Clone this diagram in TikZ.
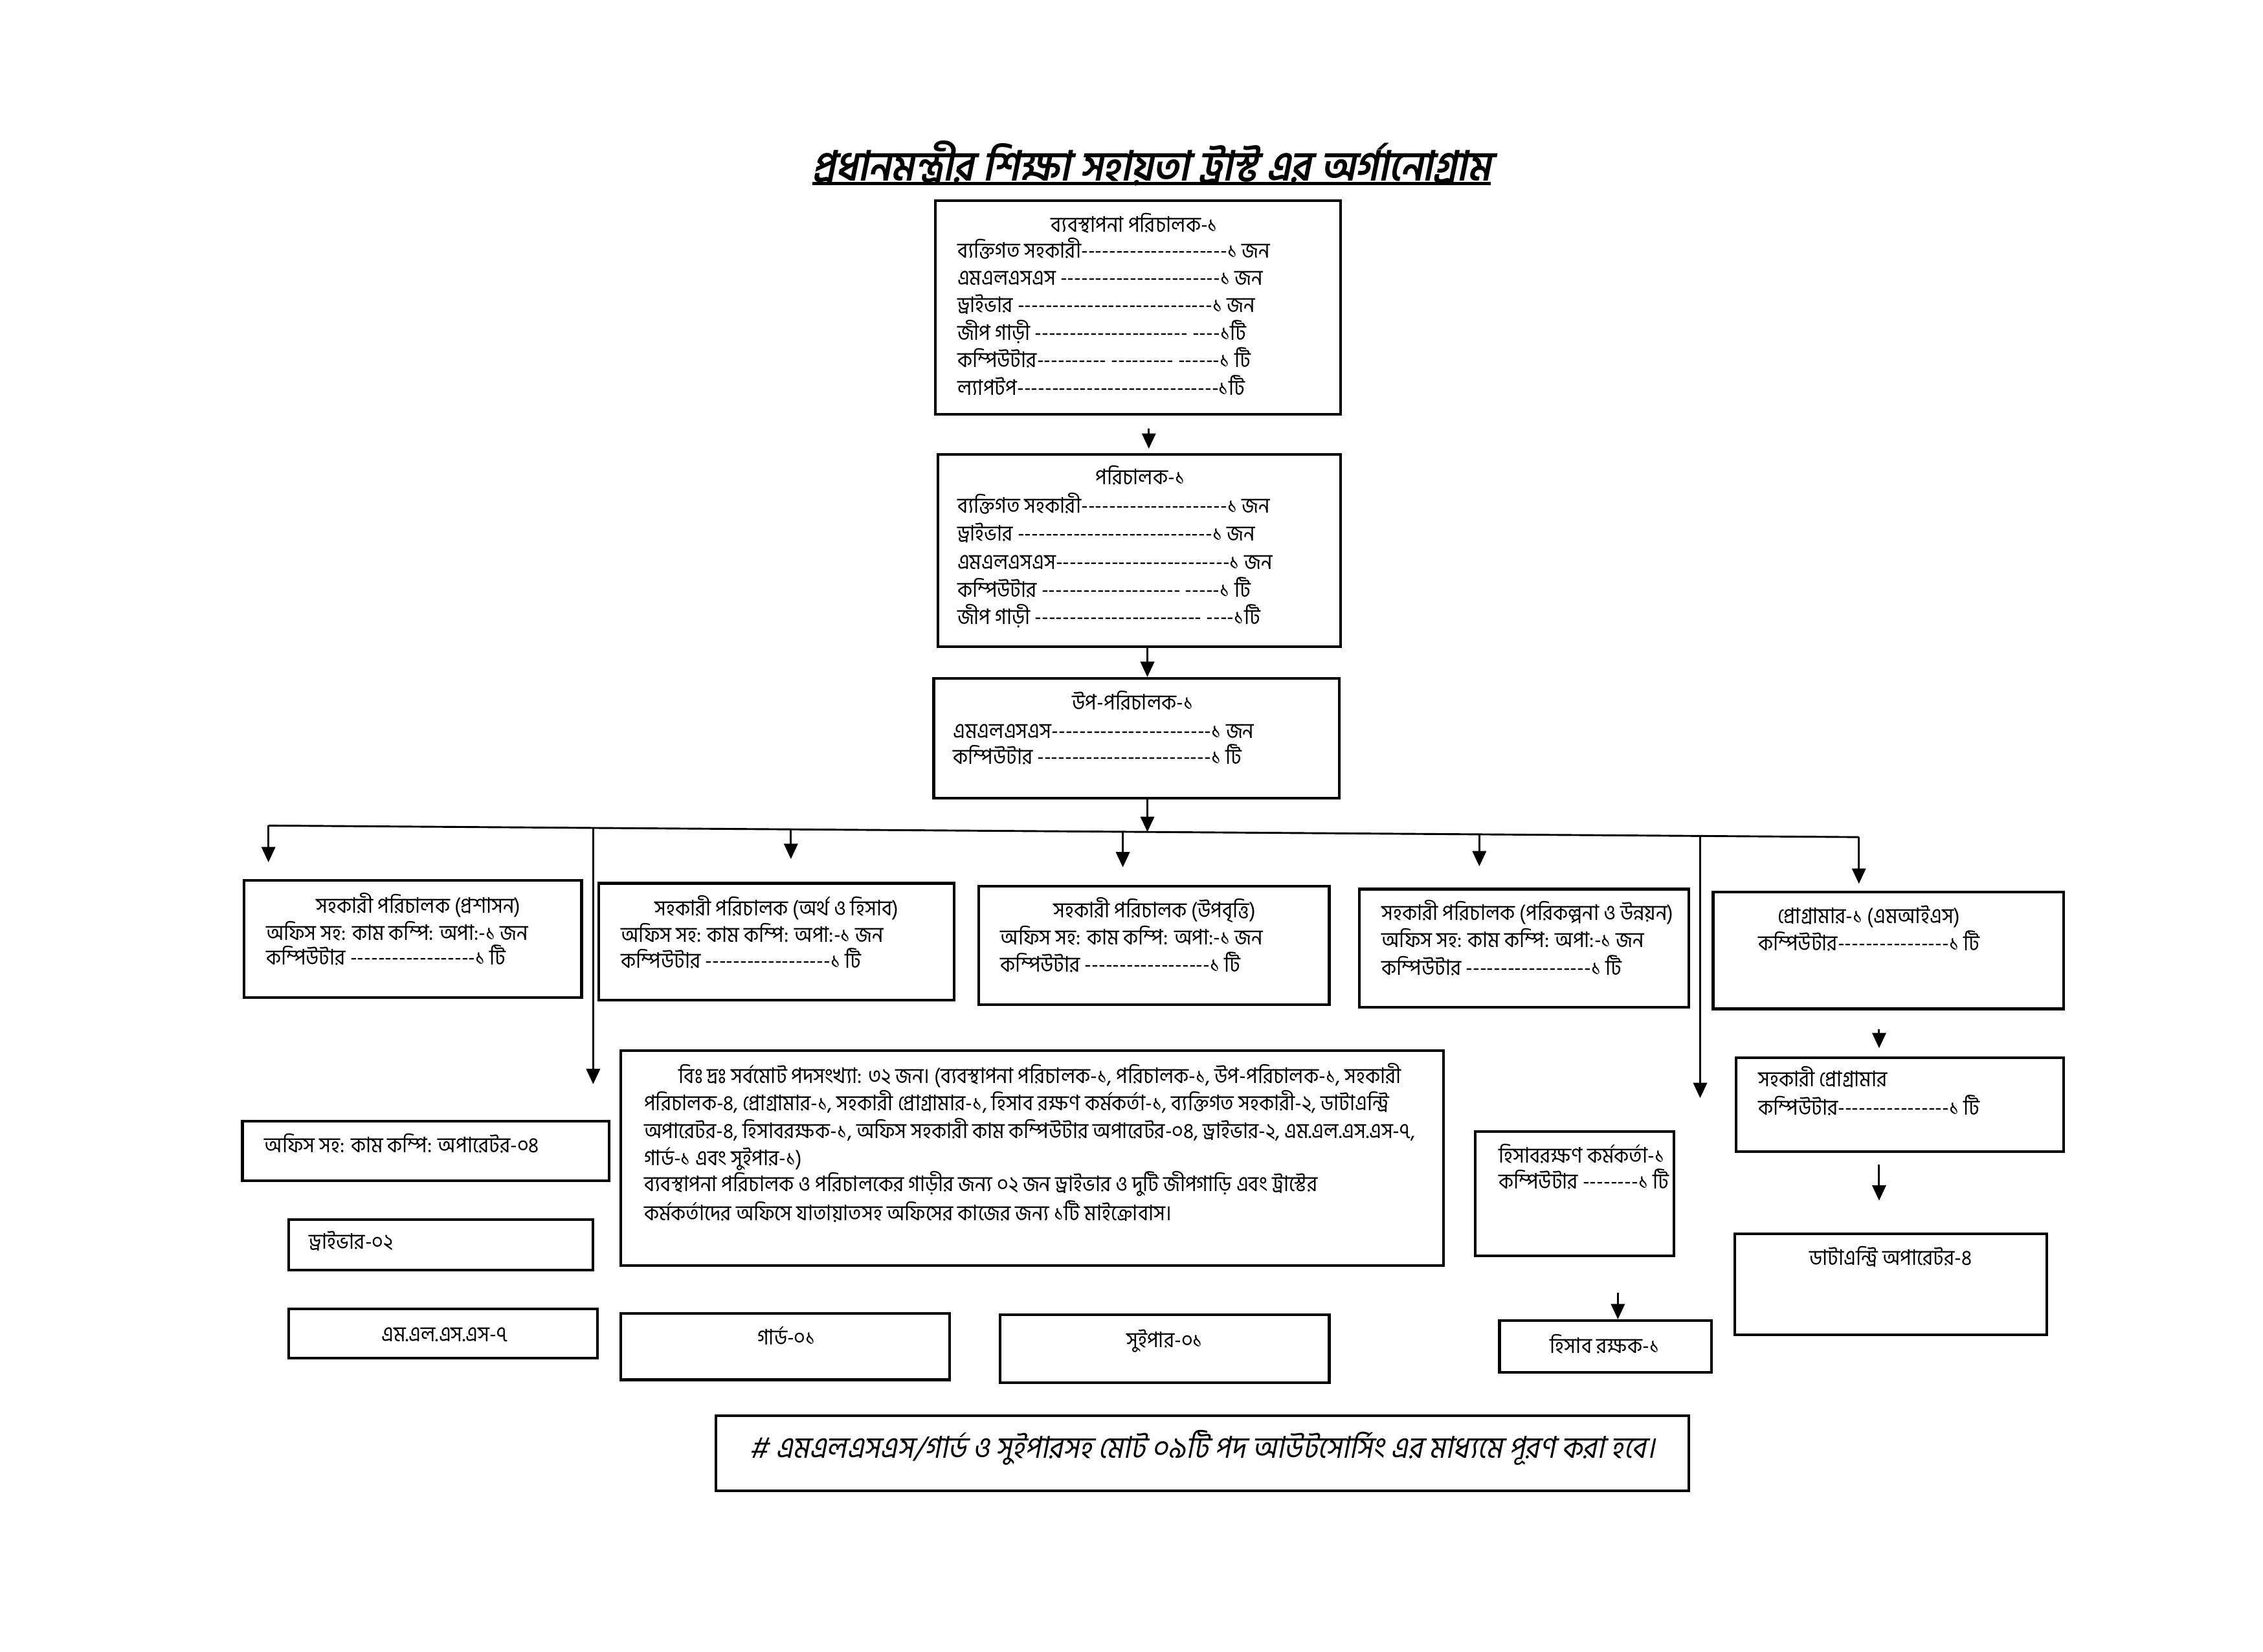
\documentclass[tikz,border=0pt]{standalone}
\usepackage{fontspec}
\newfontfamily\bn[Script=Bengali,FakeStretch=0.93]{Hind Siliguri}
\newfontfamily\bnsl[Script=Bengali,FakeSlant=0.2,FakeStretch=0.93]{Hind Siliguri}
\usetikzlibrary{arrows.meta,fit,calc}
\tikzset{
  box/.style={draw, line width=1pt, inner sep=0pt},
  txt/.style={font=\bn\fontsize{8}{10}\selectfont, inner sep=0pt, anchor=mid west, yshift=-0.03cm},
  ctxt/.style={txt, anchor=mid},
  arr/.style={-{Triangle[length=0.2cm,width=0.18cm]}, line width=0.7pt},
  ln/.style={line width=0.7pt},
}
\begin{document}
\begin{tikzpicture}[x=0.01888cm,y=-0.01888cm]
\useasboundingbox (0,0) rectangle (1568,1144.6);

% title
\node[inner sep=0pt, font=\bnsl\bfseries\fontsize{15.4}{18}\selectfont] (title) at (798,113) {প্রধানমন্ত্রীর শিক্ষা সহায়তা ট্রাস্ট এর অর্গানোগ্রাম};
\draw[line width=1.2pt] (563,127) -- (1033,127);

% box 1
\node[box, fit={(648,139) (929,287)}] (b1) {};
\node[ctxt] (b1h) at (786,155) {ব্যবস্থাপনা পরিচালক-১};
\node[txt] (b1a) at (663,173) {ব্যক্তিগত সহকারী---------------------১ জন};
\node[txt] (b1b) at (663,192) {এমএলএসএস -----------------------১ জন};
\node[txt] (b1c) at (663,211) {ড্রাইভার ----------------------------১ জন};
\node[txt] (b1d) at (663,230) {জীপ গাড়ী ---------------------- ----১টি};
\node[txt] (b1e) at (663,249) {কম্পিউটার---------- --------- ------১ টি};
\node[txt] (b1f) at (663,268) {ল্যাপটপ-----------------------------১টি};

% box 2
\node[box, fit={(650,315) (929,448)}] (b2) {};
\node[ctxt] (b2h) at (790,330) {পরিচালক-১};
\node[txt] (b2a) at (663,350) {ব্যক্তিগত সহকারী---------------------১ জন};
\node[txt] (b2b) at (663,369) {ড্রাইভার ----------------------------১ জন};
\node[txt] (b2c) at (663,389) {এমএলএসএস-------------------------১ জন};
\node[txt] (b2d) at (663,408) {কম্পিউটার -------------------- -----১ টি};
\node[txt] (b2e) at (663,427) {জীপ গাড়ী ------------------------ ----১টি};

% box 3
\node[box, fit={(647,470) (928,553)}] (b3) {};
\node[ctxt] (b3h) at (785,486) {উপ-পরিচালক-১};
\node[txt] (b3a) at (660,506) {এমএলএসএস-----------------------১ জন};
\node[txt] (b3b) at (660,524) {কম্পিউটার  -------------------------১ টি};

% second row
\node[box, fit={(169,610) (403,691)}] (b4) {};
\node[ctxt] (b4h) at (290,627) {সহকারী পরিচালক (প্রশাসন)};
\node[txt] (b4a) at (184,646) {অফিস সহ: কাম কম্পি: অপা:-১ জন};
\node[txt] (b4b) at (184,663) {কম্পিউটার ------------------১ টি};

\node[box, fit={(415,612) (661,693)}] (b5) {};
\node[ctxt] (b5h) at (538,629) {সহকারী পরিচালক (অর্থ ও হিসাব)};
\node[txt] (b5a) at (430,647) {অফিস সহ: কাম কম্পি: অপা:-১ জন};
\node[txt] (b5b) at (430,665) {কম্পিউটার ------------------১ টি};

\node[box, fit={(678,614) (921,696)}] (b6) {};
\node[ctxt] (b6h) at (800,630) {সহকারী পরিচালক (উপবৃত্তি)};
\node[txt] (b6a) at (693,649) {অফিস সহ: কাম কম্পি: অপা:-১ জন};
\node[txt] (b6b) at (693,668) {কম্পিউটার ------------------১ টি};

\node[box, fit={(942,616) (1170,698)}] (b7) {};
\node[txt] (b7h) at (957,632) {সহকারী পরিচালক (পরিকল্পনা ও উন্নয়ন)};
\node[txt] (b7a) at (957,651) {অফিস সহ: কাম কম্পি: অপা:-১ জন};
\node[txt] (b7b) at (957,670) {কম্পিউটার ------------------১ টি};

\node[box, fit={(1187,618) (1430,699)}] (b8) {};
\node[ctxt] (b8h) at (1295,634) {প্রোগ্রামার-১ (এমআইএস)};
\node[ctxt] (b8a) at (1295,653) {কম্পিউটার----------------১ টি};

\node[box, fit={(1203,733) (1430,798)}] (b9) {};
\node[txt] (b9h) at (1218,747) {সহকারী প্রোগ্রামার};
\node[txt] (b9a) at (1218,767) {কম্পিউটার----------------১ টি};

\node[box, fit={(1202,855) (1418,925)}] (b10) {};
\node[ctxt] (b10h) at (1310,871) {ডাটাএন্ট্রি অপারেটর-৪};

\node[box, fit={(1022,784) (1160,870)}] (b11) {};
\node[txt] (b11h) at (1038,800) {হিসাবরক্ষণ কর্মকর্তা-১};
\node[txt] (b11a) at (1038,818) {কম্পিউটার --------১ টি};

\node[box, fit={(1039,915) (1186,951)}] (b12) {};
\node[ctxt] (b12h) at (1112,932) {হিসাব রক্ষক-১};

% left column
\node[box, fit={(168,777) (422,818)}] (b13) {};
\node[txt] (b13h) at (183,793) {অফিস সহ: কাম কম্পি: অপারেটর-০৪};

\node[box, fit={(200,845) (411,880)}] (b14) {};
\node[txt] (b14h) at (214,860) {ড্রাইভার-০২};

\node[box, fit={(200,907) (414,941)}] (b15) {};
\node[ctxt] (b15h) at (308,924) {এম.এল.এস.এস-৭};

\node[box, fit={(430,910) (658,956)}] (b16) {};
\node[ctxt] (b16h) at (545,926) {গার্ড-০১};

\node[box, fit={(693,911) (921,958)}] (b17) {};
\node[ctxt] (b17h) at (807,928) {সুইপার-০১};

% note box
\node[box, fit={(430,728) (1000,877)}] (note) {};
\node[txt] (n1) at (470,745) {বিঃ দ্রঃ সর্বমোট পদসংখ্যা: ৩২ জন। (ব্যবস্থাপনা পরিচালক-১, পরিচালক-১, উপ-পরিচালক-১, সহকারী};
\node[txt] (n2) at (446,764) {পরিচালক-৪, প্রোগ্রামার-১, সহকারী প্রোগ্রামার-১, হিসাব রক্ষণ কর্মকর্তা-১, ব্যক্তিগত সহকারী-২, ডাটাএন্ট্রি};
\node[txt] (n3) at (446,783) {অপারেটর-৪, হিসাবরক্ষক-১, অফিস সহকারী কাম কম্পিউটার অপারেটর-০৪, ড্রাইভার-২, এম.এল.এস.এস-৭,};
\node[txt] (n4) at (446,802) {গার্ড-১ এবং সুইপার-১)};
\node[txt] (n5) at (446,820) {ব্যবস্থাপনা পরিচালক ও পরিচালকের  গাড়ীর জন্য ০২ জন ড্রাইভার ও দুটি জীপগাড়ি এবং  ট্রাস্টের};
\node[txt] (n6) at (446,840) {কর্মকর্তাদের অফিসে যাতায়াতসহ অফিসের কাজের জন্য ১টি মাইক্রোবাস।};

% bottom box
\node[box, fit={(496,981) (1170,1033)}] (bot) {};
\node[inner sep=0pt, font=\bnsl\fontsize{11.2}{13}\selectfont] (bott) at (833,1003) {\# এমএলএসএস/গার্ড ও সুইপারসহ মোট ০৯টি পদ আউটসোর্সিং এর মাধ্যমে পূরণ করা হবে।};

% connectors
\draw[arr, shorten <=0.17cm, shorten >=0.06cm] (b1.south -| 796,0) -- (b2.north -| 796,0);
\draw[arr] (b2.south -| 795,0) -- (b3.north -| 795,0);

\coordinate (busL) at (186,572);
\coordinate (busR) at (1288,580);
\coordinate (d0) at (795,576.4);
\draw[arr] (b3.south -| d0) -- (d0);
\draw[ln] (busL) -- (busR);

\coordinate (d1) at (411,573.6);
\coordinate (d2) at (548,574.6);
\coordinate (d3) at (778,576.3);
\coordinate (d4) at (1025,578.1);
\coordinate (d5) at (1178,579.2);

\draw[arr, shorten >=0.22cm] (busL) -- (b4.north -| busL);
\draw[arr, shorten >=0.3cm] (d2) -- (b5.north -| d2);
\draw[arr, shorten >=0.23cm] (d3) -- (b6.north -| d3);
\draw[arr, shorten >=0.28cm] (d4) -- (b7.north -| d4);
\draw[arr, shorten >=0.09cm] (busR) -- (b8.north -| busR);
\draw[arr, shorten >=0.47cm] (d1) -- (b13.north -| d1);
\draw[arr, shorten >=0.42cm] (d5) -- (b11.north -| d5);

\draw[arr, shorten <=0.25cm, shorten >=0.11cm] (b8.south -| 1302,0) -- (b9.north -| 1302,0);
\draw[arr, shorten <=0.15cm, shorten >=0.42cm] (b9.south -| 1302,0) -- (b10.north -| 1302,0);
\draw[arr, shorten <=0.47cm] (b11.south -| 1121,0) -- (b12.north -| 1121,0);
\end{tikzpicture}
\end{document}
